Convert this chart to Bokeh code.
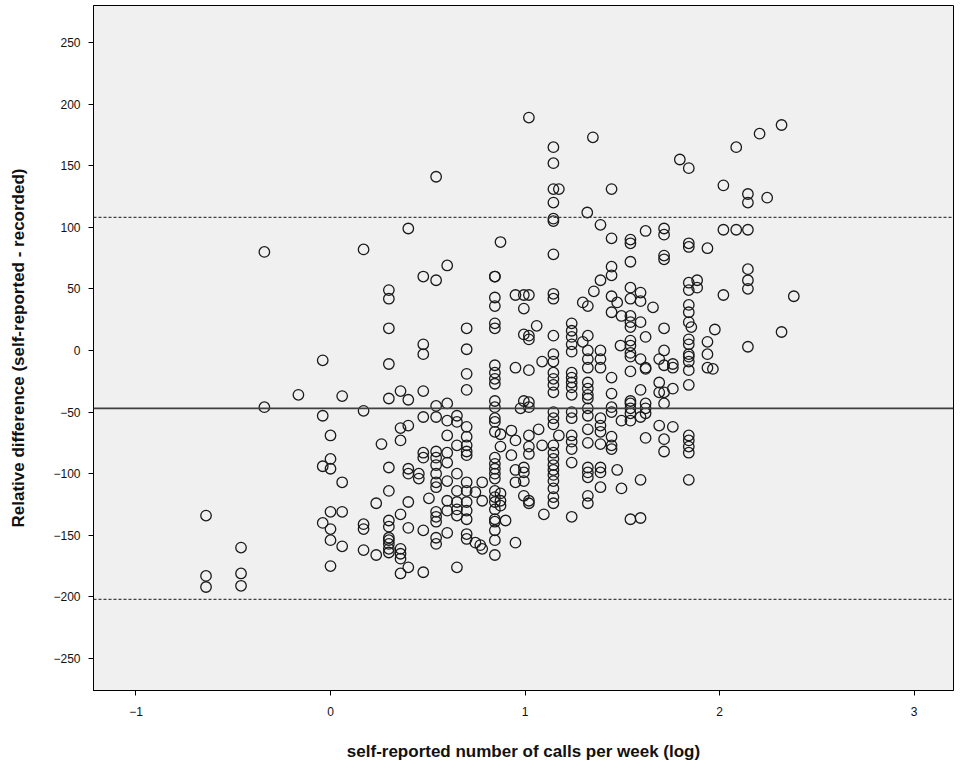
from bokeh.plotting import figure
from bokeh.models import Range1d, FixedTicker, Span, ColumnDataSource
from bokeh.embed import file_html
from bokeh.resources import INLINE

# x positions (log10 of self-reported calls per week), one entry per column of points
col_x = [
    -0.64, -0.46, -0.34, -0.165, -0.04, 0.0, 0.06, 0.17, 0.235, 0.262,
    0.30, 0.36, 0.40, 0.454, 0.477, 0.506, 0.543, 0.60, 0.65, 0.70,
    0.745, 0.77, 0.78, 0.845, 0.874, 0.90, 0.93, 0.951, 0.977, 0.994,
    1.02, 1.06, 1.07, 1.088, 1.097, 1.146, 1.174, 1.24, 1.297, 1.32,
    1.323, 1.349, 1.354, 1.388, 1.445, 1.474, 1.491, 1.496, 1.542, 1.594,
    1.62, 1.658, 1.69, 1.715, 1.76, 1.796, 1.842, 1.855, 1.885, 1.938,
    1.966, 1.976, 2.02, 2.086, 2.146, 2.206, 2.245, 2.319, 2.382,
]

# relative differences (self-reported - recorded) for each column above
col_y = [
    [-134, -183, -192],
    [-160, -181, -191],
    [80, -46],
    [-36],
    [-8, -53, -94, -140],
    [-69, -88, -96, -131, -145, -154, -175],
    [-37, -107, -131, -159],
    [82, -49, -141, -145, -162],
    [-124, -166],
    [-76],
    [49, 42, 18, -11, -39, -95, -114, -138, -143, -152, -154, -157, -161, -164],
    [-33, -63, -73, -133, -161, -165, -169, -181],
    [99, -40, -61, -96, -100, -123, -144, -176],
    [-100, -104],
    [60, 5, -3, -33, -54, -83, -87, -146, -180],
    [-120],
    [141, 57, -45, -54, -82, -87, -93, -100, -107, -111, -131, -135, -139, -152, -157],
    [69, -43, -57, -69, -83, -91, -106, -122, -130, -148],
    [-53, -58, -77, -100, -114, -123, -129, -134, -176],
    [18, 1, -19, -32, -62, -70, -77, -82, -85, -107, -114, -123, -130, -137, -149, -153],
    [-115, -156],
    [-158],
    [-107, -122, -161],
    [60, 60, 43, 36, 22, 18, -12, -18, -23, -27, -41, -46, -55, -58, -66, -87, -92,
     -96, -100, -104, -114, -119, -123, -129, -137, -139, -146, -154, -166],
    [88, -68, -78, -116, -122, -126],
    [-138],
    [-65, -85],
    [45, -14, -73, -97, -107, -156],
    [-47],
    [45, 34, 13, -41, -95, -99, -106, -118],
    [189, 45, 12, 9, -16, -42, -46, -69, -78, -84, -122, -124],
    [20],
    [-64],
    [-9, -77],
    [-133],
    [165, 152, 131, 120, 107, 105, 78, 46, 42, 12, -3, -9, -18, -23, -28, -34, -50,
     -55, -60, -77, -83, -88, -93, -97, -101, -106, -112, -119, -124],
    [131, -69],
    [22, 16, 11, 5, -1, -18, -22, -26, -30, -36, -50, -55, -69, -74, -80, -91, -135],
    [39, 7],
    [112],
    [36, 12, 0, -7, -14, -26, -31, -36, -39, -47, -53, -64, -75, -95, -99, -103, -118, -124],
    [173],
    [48],
    [102, 57, 0, -7, -14, -55, -61, -66, -76, -95, -99, -111],
    [131, 91, 68, 61, 44, 31, -22, -35, -46, -50, -70, -77, -80],
    [39, -97],
    [4],
    [28, -57, -112],
    [90, 87, 72, 51, 42, 28, 23, 19, 8, 4, -2, -5, -17, -41, -43, -47, -51, -57, -137],
    [47, 40, 23, -7, -32, -54, -105, -136],
    [97, 11, -14, -15, -43, -47, -51, -71],
    [35],
    [-7, -26, -34, -61],
    [99, 94, 77, 74, 18, 0, -12, -34, -43, -72, -82],
    [-11, -14, -31, -62],
    [155],
    [148, 87, 84, 55, 49, 37, 31, 23, 9, 5, -3, -5, -9, -16, -28, -69, -73, -78, -83, -105],
    [19],
    [57, 51],
    [83, 7, -3, -14],
    [-15],
    [17],
    [134, 98, 45],
    [165, 98],
    [127, 120, 98, 66, 57, 50, 3],
    [176],
    [124],
    [183, 15],
    [44],
]

# mean difference and limits of agreement
mean_diff = -47
upper_limit = 108
lower_limit = -202

x_ticks = [-1, 0, 1, 2, 3]
y_ticks = [-250, -200, -150, -100, -50, 0, 50, 100, 150, 200, 250]

xs, ys = [], []
for cx, cy in zip(col_x, col_y):
    for v in cy:
        xs.append(cx)
        ys.append(v)
src = ColumnDataSource(data=dict(x=xs, y=ys))

p = figure(
    width=960, height=768,
    x_range=Range1d(-1.2185, 3.203), y_range=Range1d(-276, 280),
    output_backend="svg", toolbar_location=None,
    min_border_left=93, min_border_right=7, min_border_top=5, min_border_bottom=78,
)
p.background_fill_color = "#F0F0F0"
p.border_fill_color = "white"
p.outline_line_color = "black"
p.outline_line_width = 1
p.xgrid.visible = False
p.ygrid.visible = False

for ax in (p.xaxis[0], p.yaxis[0]):
    ax.major_label_text_font = "Liberation Sans"
    ax.major_label_text_font_size = "12px"
    ax.major_label_text_color = "#111111"
    ax.axis_label_text_font = "Liberation Sans"
    ax.axis_label_text_font_style = "bold"
    ax.axis_label_text_font_size = "17px"
    ax.axis_label_text_color = "#111111"
    ax.axis_line_color = "black"
    ax.major_tick_line_color = "black"
    ax.major_tick_out = 5
    ax.major_tick_in = 0
    ax.minor_tick_line_color = None

p.xaxis.major_label_standoff = 11
p.yaxis.major_label_standoff = 8
p.xaxis.ticker = FixedTicker(ticks=x_ticks)
p.yaxis.ticker = FixedTicker(ticks=y_ticks)
p.xaxis.axis_label = "self-reported number of calls per week (log)"
p.yaxis.axis_label = "Relative difference (self-reported - recorded)"
p.xaxis.axis_label_standoff = 23
p.yaxis.axis_label_standoff = 22

p.add_layout(Span(location=mean_diff, dimension="width", line_color="#404040", line_width=1.6))
for lim in (upper_limit, lower_limit):
    p.add_layout(Span(location=lim, dimension="width", line_color="#404040",
                      line_width=1.3, line_dash="3 2"))

p.scatter("x", "y", source=src, marker="circle", size=10.5,
          fill_color=None, line_color="#1a1a1a", line_width=1.3)

open("out.html", "w").write(file_html(p, INLINE))
